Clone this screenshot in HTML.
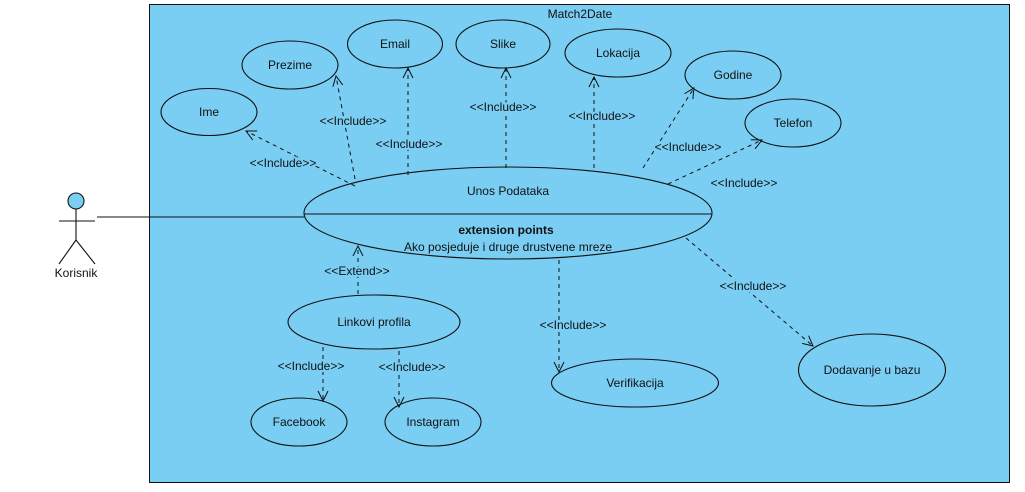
<!DOCTYPE html>
<html><head><meta charset="utf-8"><style>
html,body{margin:0;padding:0;background:#fff;width:1025px;height:492px;overflow:hidden}
svg{display:block}
text{font-family:"Liberation Sans",Arial,sans-serif;font-size:12px;fill:#111}
.lb text{stroke:#7ACEF3;stroke-width:4;paint-order:stroke}
</style></head><body>
<svg width="1025" height="492" viewBox="0 0 1025 492" xmlns="http://www.w3.org/2000/svg">
<defs>
<marker id="a" markerWidth="12" markerHeight="12" refX="11" refY="6" orient="auto" markerUnits="userSpaceOnUse">
<path d="M1,1 L11,6 L1,11" fill="none" stroke="#111" stroke-width="1"/>
</marker>
</defs>
<rect x="149.5" y="4.5" width="860" height="478" fill="#7ACEF3" stroke="#111" stroke-width="1"/>
<text x="580" y="18" text-anchor="middle">Match2Date</text>

<g fill="none" stroke="#111" stroke-width="1.1">
<ellipse cx="209" cy="112" rx="48" ry="23.5"/>
<ellipse cx="290" cy="65" rx="48" ry="24"/>
<ellipse cx="395" cy="44" rx="47.5" ry="24"/>
<ellipse cx="503" cy="44" rx="47" ry="24"/>
<ellipse cx="618" cy="53" rx="53" ry="24"/>
<ellipse cx="733" cy="75" rx="48" ry="24"/>
<ellipse cx="793" cy="123" rx="48" ry="24"/>
<ellipse cx="508" cy="213" rx="204" ry="46"/>
<line x1="304" y1="214" x2="712" y2="214"/>
<ellipse cx="374" cy="322" rx="86" ry="27"/>
<ellipse cx="299" cy="422" rx="48" ry="24"/>
<ellipse cx="433" cy="422" rx="48" ry="24"/>
<ellipse cx="635" cy="383" rx="83.5" ry="24"/>
<ellipse cx="872" cy="370" rx="73.5" ry="36"/>
<circle cx="76" cy="201" r="8" fill="#7ACEF3"/>
<line x1="76" y1="209" x2="76" y2="240"/>
<line x1="59" y1="221" x2="95" y2="221"/>
<line x1="76" y1="240" x2="59" y2="264"/>
<line x1="76" y1="240" x2="95" y2="264"/>
<line x1="97" y1="217" x2="304" y2="217"/>
</g>

<g fill="none" stroke="#111" stroke-width="1" stroke-dasharray="4,4" marker-end="url(#a)">
<line x1="355" y1="186" x2="246" y2="131"/>
<line x1="355" y1="179" x2="336" y2="76"/>
<line x1="408" y1="175" x2="408" y2="68"/>
<line x1="506" y1="168" x2="506" y2="68"/>
<line x1="594" y1="168" x2="594" y2="77"/>
<line x1="643" y1="168" x2="694" y2="88"/>
<line x1="668" y1="184" x2="762" y2="140"/>
<line x1="358" y1="294" x2="358" y2="246"/>
<line x1="559" y1="260" x2="559" y2="372"/>
<line x1="686" y1="238" x2="813" y2="346"/>
<line x1="323" y1="347" x2="323" y2="401"/>
<line x1="399" y1="351" x2="399" y2="407"/>
</g>

<g text-anchor="middle">
<text x="209" y="116">Ime</text>
<text x="290" y="69">Prezime</text>
<text x="395" y="48">Email</text>
<text x="503" y="48">Slike</text>
<text x="618" y="57">Lokacija</text>
<text x="733" y="79">Godine</text>
<text x="793" y="127">Telefon</text>
<text x="508" y="195">Unos Podataka</text>
<text x="506" y="234" font-weight="bold">extension points</text>
<text x="508" y="251">Ako posjeduje i druge drustvene mreze</text>
<text x="374" y="326">Linkovi profila</text>
<text x="299" y="426">Facebook</text>
<text x="433" y="426">Instagram</text>
<text x="635" y="387">Verifikacija</text>
<text x="872" y="374">Dodavanje u bazu</text>
<text x="76" y="277">Korisnik</text>

<g class="lb">
<text x="283" y="167">&lt;&lt;Include&gt;&gt;</text>
<text x="353" y="125">&lt;&lt;Include&gt;&gt;</text>
<text x="409" y="148">&lt;&lt;Include&gt;&gt;</text>
<text x="503" y="111">&lt;&lt;Include&gt;&gt;</text>
<text x="602" y="120">&lt;&lt;Include&gt;&gt;</text>
<text x="688" y="151">&lt;&lt;Include&gt;&gt;</text>
<text x="744" y="187">&lt;&lt;Include&gt;&gt;</text>
<text x="357" y="275">&lt;&lt;Extend&gt;&gt;</text>
<text x="573" y="329">&lt;&lt;Include&gt;&gt;</text>
<text x="753" y="290">&lt;&lt;Include&gt;&gt;</text>
<text x="311" y="370">&lt;&lt;Include&gt;&gt;</text>
<text x="412" y="371">&lt;&lt;Include&gt;&gt;</text>
</g>
</g>
</svg>
</body></html>
